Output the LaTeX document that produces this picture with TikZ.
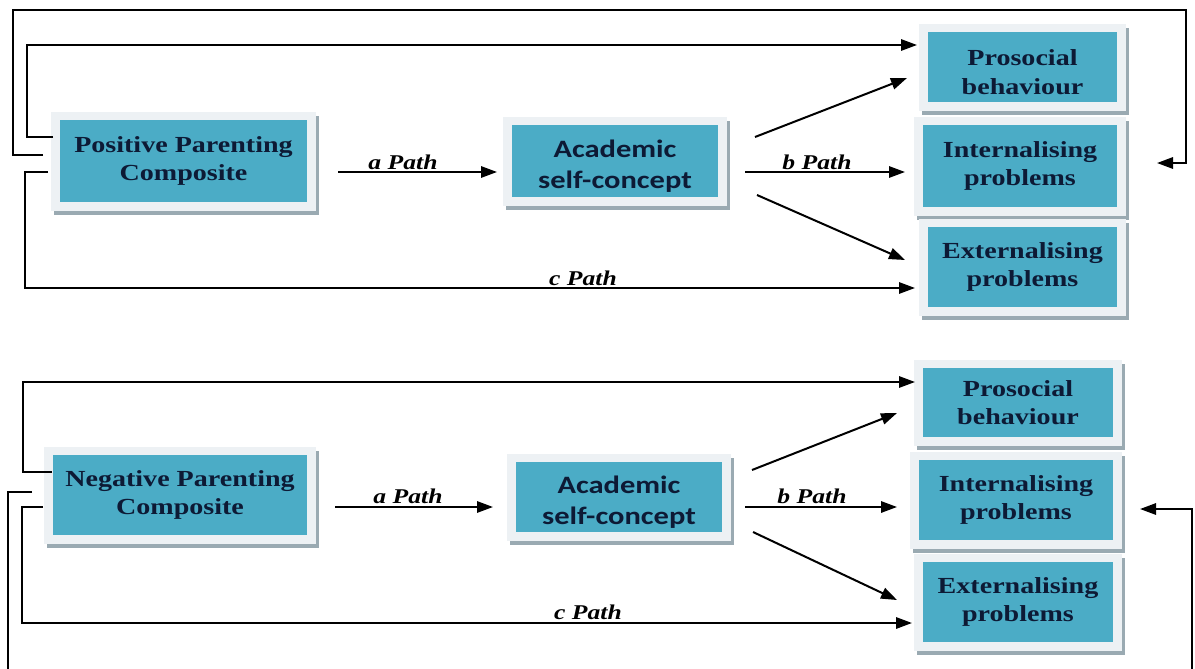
\documentclass[tikz,border=0pt]{standalone}
\usepackage{fontspec}
\usepackage{graphicx}
\setmainfont{Liberation Serif}
\newfontfamily\calfont{Carlito}
\usetikzlibrary{arrows.meta,backgrounds}
\definecolor{boxblue}{HTML}{4BACC6}
\definecolor{navy}{HTML}{0D1A35}
\definecolor{framec}{HTML}{EDF1F4}
\definecolor{shadowc}{HTML}{9AAAB2}
\newcommand\sx[1]{\scalebox{1.22}[1]{#1}}
\newcommand\lw[1]{\raisebox{-4pt}[\height][\depth]{\sx{#1}}}
\tikzset{
  box/.style={fill=boxblue, inner sep=0pt, align=center, text=navy},
  serifbox/.style={box, font=\fontsize{17.25}{21.5}\selectfont\bfseries},
  sansbox/.style={box, font=\fontsize{18.75}{23}\selectfont\calfont\bfseries},
  conn/.style={line width=1.5pt, -{Triangle[length=12pt,width=8.5pt]}},
  lab/.style={font=\fontsize{15.75}{18}\selectfont\bfseries\itshape, anchor=base, inner sep=0pt, text=black}
}
\begin{document}
\begin{tikzpicture}[x=0.75pt,y=-0.75pt]
\clip (0,0) rectangle (1195,668);
% ---------- top diagram ----------
\node[serifbox, minimum width=185.25pt, minimum height=61.5pt] (pp) at (183.5,161) {\sx{Positive Parenting}\\\sx{Composite}};
\node[sansbox, minimum width=154.5pt, minimum height=54pt] (ac1) at (615,161) {\lw{Academic}\\\lw{self-concept}};
\node[serifbox, minimum width=141.75pt, minimum height=52.5pt] (pr1) at (1022.5,67) {\lw{Prosocial}\\\lw{behaviour}};
\node[serifbox, minimum width=145.5pt, minimum height=61.5pt] (in1) at (1020,166) {\sx{Internalising}\\\sx{problems}};
\node[serifbox, minimum width=141.75pt, minimum height=60pt] (ex1) at (1022.5,267) {\sx{Externalising}\\\sx{problems}};
% ---------- bottom diagram ----------
\node[serifbox, minimum width=190.5pt, minimum height=60pt] (np) at (180,495) {\sx{Negative Parenting}\\\sx{Composite}};
\node[sansbox, minimum width=154.5pt, minimum height=52.5pt] (ac2) at (619,497) {\lw{Academic}\\\lw{self-concept}};
\node[serifbox, minimum width=142.5pt, minimum height=51.75pt] (pr2) at (1018,402.5) {\sx{Prosocial}\\\sx{behaviour}};
\node[serifbox, minimum width=145.5pt, minimum height=60pt] (in2) at (1016,500) {\sx{Internalising}\\\sx{problems}};
\node[serifbox, minimum width=142.5pt, minimum height=60pt] (ex2) at (1018,602) {\sx{Externalising}\\\sx{problems}};
% frames and shadows
\begin{scope}[on background layer]
\fill[white] (0,0) rectangle (1195,668);
\foreach \n in {pp,ac1,pr1,in1,ex1,np,ac2,pr2,in2,ex2}{
  \fill[shadowc] ([shift={(-6,-4)}]\n.north west) rectangle ([shift={(12,13)}]\n.south east);
  \fill[framec] ([shift={(-9,-8)}]\n.north west) rectangle ([shift={(9,9)}]\n.south east);
}
\end{scope}
% ---------- top connectors ----------
\coordinate (o1s) at (43,155);   \coordinate (o1e) at (1157,163);
\coordinate (p1s) at (53,137);   \coordinate (p1e) at (917,45);
\coordinate (c1s) at (48,172);   \coordinate (c1e) at (915,288);
\coordinate (a1s) at (338,172);  \coordinate (a1e) at (497,172);
\coordinate (b1s) at (745,172);  \coordinate (b1e) at (905,172);
\coordinate (u1s) at (755,137);  \coordinate (u1e) at (907,78);
\coordinate (d1s) at (757,195);  \coordinate (d1e) at (905,260);
\draw[conn] (o1s) -| (13,10) -| (1186,163) -- (o1e);
\draw[conn] (p1s) -| (27,45) -- (p1e);
\draw[conn] (c1s) -| (25,288) -- (c1e);
\draw[conn] (a1s) -- (a1e);
\draw[conn] (b1s) -- (b1e);
\draw[conn] (u1s) -- (u1e);
\draw[conn] (d1s) -- (d1e);
\node[lab] (la1) at (403,169) {\sx{a Path}};
\node[lab] (lb1) at (817,169) {\sx{b Path}};
\node[lab] (lc1) at (583,285) {\sx{c Path}};
% ---------- bottom connectors ----------
\coordinate (o2s) at (32,492);   \coordinate (o2e) at (1140,509);
\coordinate (p2s) at (52,472);   \coordinate (p2e) at (915,382);
\coordinate (c2s) at (43,507);   \coordinate (c2e) at (912,623);
\coordinate (a2s) at (335,507);  \coordinate (a2e) at (493,507);
\coordinate (b2s) at (745,507);  \coordinate (b2e) at (897,507);
\coordinate (u2s) at (752,470);  \coordinate (u2e) at (897,413);
\coordinate (d2s) at (753,532);  \coordinate (d2e) at (897,600);
\draw[conn] (o2s) -| (8,700) -| (1192,509) -- (o2e);
\draw[conn] (p2s) -| (23,382) -- (p2e);
\draw[conn] (c2s) -| (22,623) -- (c2e);
\draw[conn] (a2s) -- (a2e);
\draw[conn] (b2s) -- (b2e);
\draw[conn] (u2s) -- (u2e);
\draw[conn] (d2s) -- (d2e);
\node[lab] (la2) at (408,503) {\sx{a Path}};
\node[lab] (lb2) at (812,503) {\sx{b Path}};
\node[lab] (lc2) at (588,619) {\sx{c Path}};
\end{tikzpicture}
\end{document}
